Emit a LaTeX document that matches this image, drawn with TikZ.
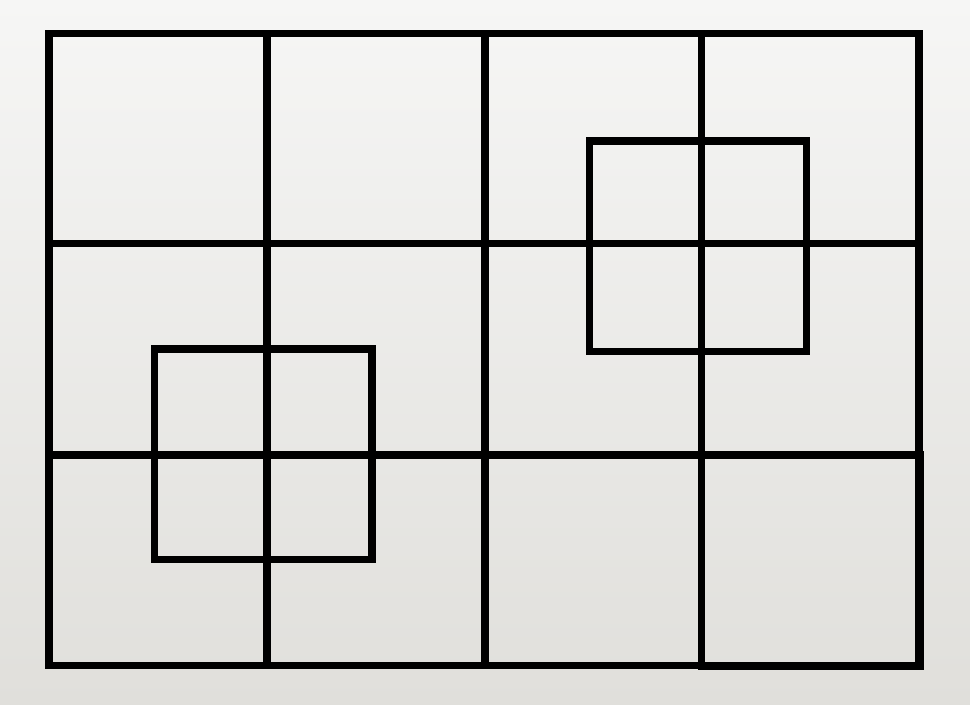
\documentclass[tikz,border=0pt]{standalone}
\usepackage{tikz}
\usetikzlibrary{calc}
\definecolor{paper}{RGB}{246, 246, 245}
\definecolor{paperdark}{RGB}{224, 223, 219}
\definecolor{ink}{RGB}{0, 0, 0}

\begin{document}
\begin{tikzpicture}[
            x=0.02cm, y=-0.02cm,
            gridline/.style={draw=ink, line width=4.15pt, line cap=rect, line join=miter},
            overlay box/.style={draw=ink, line width=4.15pt, line join=miter}
        ]
            % Background
            \shade[top color=paper, bottom color=paperdark] (0,0) rectangle (970,704);
            \useasboundingbox (0,0) rectangle (970,704);

            % Grid lines
            \draw[gridline] (267,33.5) -- (267,665.5);
            \draw[gridline] (485,33.5) -- (485,665.5);
            \draw[gridline] (701.7,33.5) -- (701.7,665.5);
            \draw[gridline] (49,243.5) -- (919,243.5);
            \draw[gridline] (49,455) -- (919,455);

            % Outer frame
            \draw[overlay box] (49,33.5) rectangle (919,665.5);

            % Bottom right square
            \draw[overlay box] (701.7,455) rectangle (920,666.5);

            % Overlapping squares
            \draw[overlay box] (154.7,349) rectangle (372,559.7);
            \draw[overlay box] (589.5,141) rectangle (806.7,351.3);

        \end{tikzpicture}
\end{document}
